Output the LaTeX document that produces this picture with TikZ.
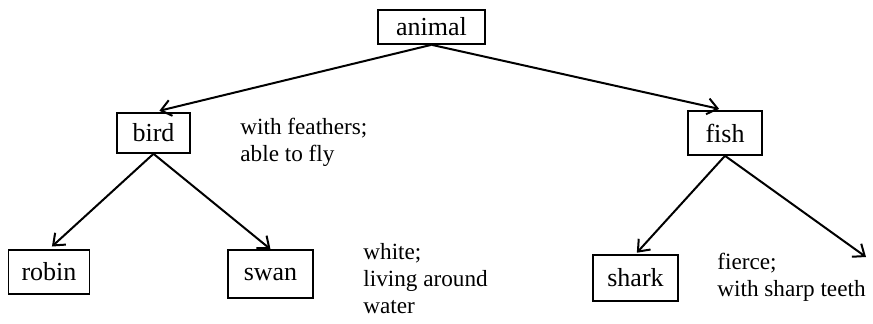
\documentclass[tikz,border=0pt]{standalone}
\usepackage{fontspec}
\setmainfont{Liberation Serif}
\usetikzlibrary{arrows.meta}

\begin{document}
\begin{tikzpicture}[x=0.5pt, y=-0.5pt, >={Straight Barb[length=5pt,width=8pt]},
  every box/.style={draw, line width=0.8pt, inner sep=0pt, font=\fontsize{13}{15}\selectfont},
  every note/.style={inner sep=0pt, align=left, anchor=base west, font=\fontsize{11.6}{13.5}\selectfont},
  every link/.style={->, line width=1pt}]

\useasboundingbox (0,0) rectangle (873,323);

\foreach \n/\x/\y/\w/\h in {animal/431.5/27/107/34, bird/153.5/133/73/40, robin/49/272/81/44,
    swan/270.5/274/85/48, fish/725/133/74/44, shark/635.5/278/85/46}
  \node [every box, minimum width=\w*0.5pt, minimum height=\h*0.5pt] (\n) at (\x,\y) {\n};

\coordinate (fish-right) at (866,257);

% base anchor sits on the last line
\node [every note] (note-bird) at (240,161) {with feathers;\\able to fly};
\node [every note] (note-swan) at (363,313) {white;\\living around\\water};
\node [every note] (note-shark) at (717,296) {fierce;\\with sharp teeth};

\foreach \a/\b/\s in {animal/bird/3, animal/fish/3, bird/robin/2, bird/swan/0, fish/shark/1}
  \draw [every link, shorten >=\s pt] (\a.south) -- (\b.north);
\draw [every link] (fish.south) -- (fish-right);

\end{tikzpicture}
\end{document}
